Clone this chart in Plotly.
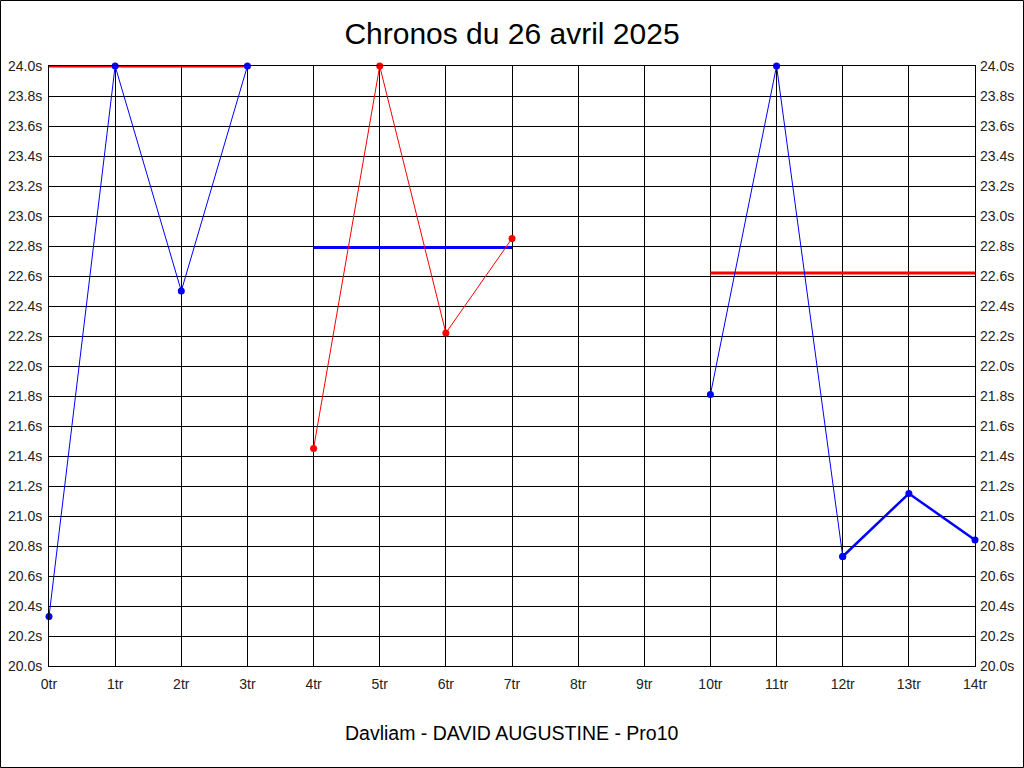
import plotly.graph_objects as go

# Tours et chronos (secondes)
tours_a = [0, 1, 2, 3]
chronos_a = [20.33, 24.0, 22.50, 24.0]
tours_b = [4, 5, 6, 7]
chronos_b = [21.45, 24.0, 22.22, 22.85]
tours_c = [10, 11, 12]
chronos_c = [21.81, 24.0, 20.73]
tours_d = [12, 13, 14]
chronos_d = [20.73, 21.15, 20.84]

# Moyennes par relais
moy_x = [[0, 3], [4, 7], [10, 14]]
moy_y = [24.0, 22.79, 22.62]
moy_col = ["#ff0000", "#0000ff", "#ff0000"]

tick_x = list(range(15))
tick_x_txt = [f"{t}tr" for t in tick_x]
tick_y = [round(20 + 0.2 * i, 1) for i in range(21)]
tick_y_txt = [f"{v:.1f}s" for v in tick_y]

W, H = 1024, 768
ML, MR, MT, MB = 49, 49, 66, 102
PW, PH = W - ML - MR, H - MT - MB

fig = go.Figure()

# Lignes de moyenne
for xs, y, c in zip(moy_x, moy_y, moy_col):
    fig.add_trace(go.Scatter(x=xs, y=[y, y], mode='lines',
                             line=dict(color=c, width=3), cliponaxis=False,
                             hoverinfo='skip'))

series = [
    (tours_a, chronos_a, "#0000ff", 1),
    (tours_b, chronos_b, "#ff0000", 1),
    (tours_c, chronos_c, "#0000ff", 1),
    (tours_d, chronos_d, "#0000ff", 2.5),
]
for xs, ys, c, w in series:
    fig.add_trace(go.Scatter(x=xs, y=ys, mode='lines+markers',
                             line=dict(color=c, width=w),
                             marker=dict(color=c, size=7),
                             cliponaxis=False))

# trace invisible pour l'axe de droite
fig.add_trace(go.Scatter(x=[0], y=[20], yaxis='y2', mode='markers',
                         marker=dict(opacity=0), hoverinfo='skip'))

axis_common = dict(showgrid=True, gridcolor='#000000', gridwidth=1,
                   showline=True, linecolor='#000000', linewidth=1,
                   zeroline=False, ticks='', automargin=False,
                   tickfont=dict(size=14, color='#222222'))

fig.update_layout(
    width=W, height=H,
    showlegend=False,
    plot_bgcolor='#ffffff',
    paper_bgcolor='#ffffff',
    font=dict(family="Liberation Sans, Arial, sans-serif", color="#000000"),
    margin=dict(l=ML, r=MR, t=MT, b=MB),
    title=dict(text="Chronos du 26 avril 2025", x=0.5, xanchor='center',
               y=1 - 33 / H, yanchor='middle', font=dict(size=30, color='#000000')),
    xaxis=dict(range=[0, 14], tickvals=tick_x, ticktext=tick_x_txt,
               mirror=True, ticklabelstandoff=5, **axis_common),
    yaxis=dict(range=[20, 24], tickvals=tick_y, ticktext=tick_y_txt,
               mirror=True, ticklabelstandoff=3, **axis_common),
    yaxis2=dict(range=[20, 24], tickvals=tick_y, ticktext=tick_y_txt,
                overlaying='y', side='right', showgrid=False, zeroline=False,
                showline=False, ticks='', ticklabelstandoff=4, automargin=False,
                tickfont=dict(size=14, color='#222222')),
    annotations=[dict(text="Davliam - DAVID AUGUSTINE - Pro10", xref='paper', yref='paper',
                      x=0.5, y=(MT + PH - 733) / PH, xanchor='center', yanchor='middle',
                      showarrow=False, font=dict(size=19.5, color='#000000'))],
    shapes=[dict(type='rect', xref='paper', yref='paper',
                 x0=(0.5 - ML) / PW, x1=(W - 0.5 - ML) / PW,
                 y0=(MT + PH - (H - 0.5)) / PH, y1=(MT + PH - 0.5) / PH,
                 line=dict(color='#000000', width=1), layer='below')],
)

fig.write_html("out.html", config={'displayModeBar': False},
               post_script="document.body.style.margin='0';")
